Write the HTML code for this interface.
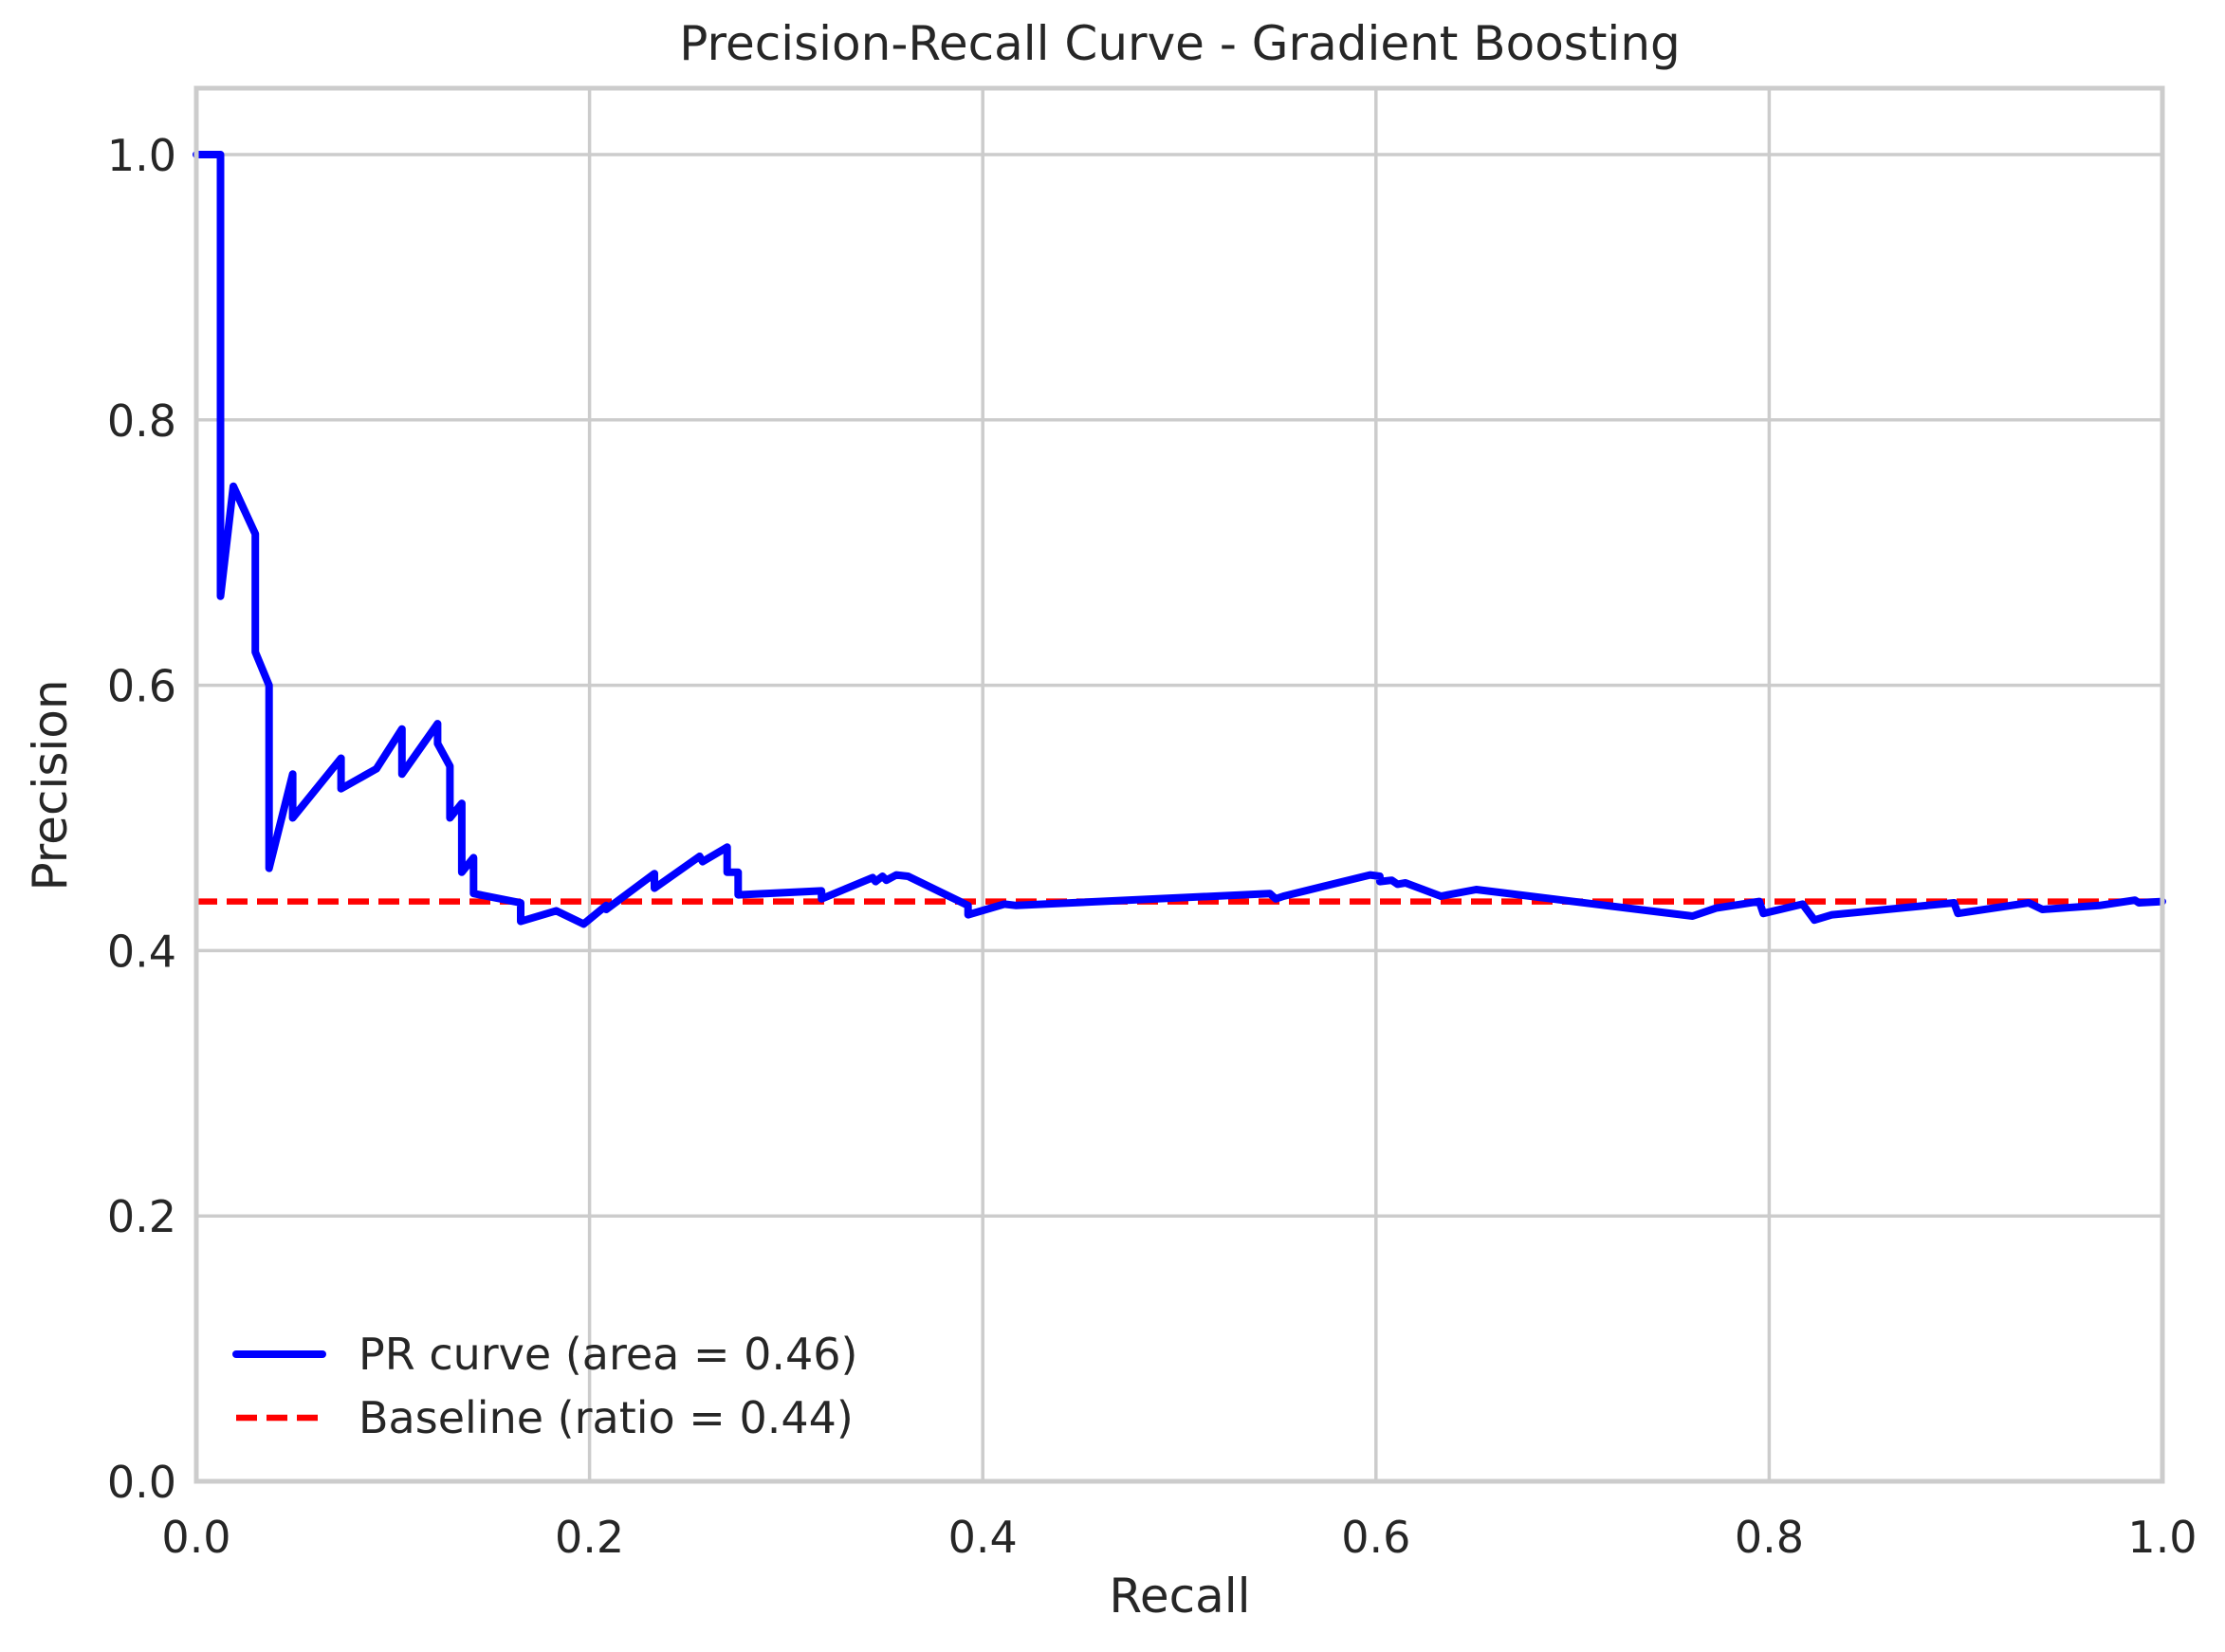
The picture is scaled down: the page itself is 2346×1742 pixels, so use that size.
<!DOCTYPE html>
<html><head><meta charset="utf-8"><style>
html,body{margin:0;padding:0;background:#fff;}
svg{display:block;font-family:"DejaVu Sans","Liberation Sans",sans-serif;}
</style></head><body>
<svg id="chart" width="2346" height="1742" viewBox="0 0 2346 1742">
<rect x="0" y="0" width="2346" height="1742" fill="#fff"/>
<g id="grid"></g>
<g id="marks"></g>
<g id="axes"></g>
<text x="1244" y="63" font-size="50" fill="#262626" text-anchor="middle">Precision-Recall Curve - Gradient Boosting</text>
<text x="1244" y="1700" font-size="50" fill="#262626" text-anchor="middle">Recall</text>
<text x="0" y="0" font-size="50" fill="#262626" text-anchor="middle" transform="translate(70,828) rotate(-90)">Precision</text>
<g>
<line x1="249" y1="1428" x2="340" y2="1428" stroke="#0000ff" stroke-width="8" stroke-linecap="round"/>
<text x="378" y="1444" font-size="46" fill="#262626">PR curve (area = 0.46)</text>
<line x1="249" y1="1495" x2="340" y2="1495" stroke="#ff0000" stroke-width="6.5" stroke-dasharray="22,10"/>
<text x="378" y="1511" font-size="46" fill="#262626">Baseline (ratio = 0.44)</text>
</g>
</svg>
<script>
const recall = [0,0.0123,0.0123,0.0188,0.030,0.030,0.037,0.037,0.049,0.049,0.0736,0.0736,0.0916,0.1046,0.1046,0.1227,0.1227,0.129,0.129,0.135,0.135,0.141,0.141,0.165,0.165,0.183,0.197,0.2085,0.2085,0.233,0.233,0.256,0.2575,0.27,0.27,0.2756,0.2756,0.318,0.318,0.344,0.3455,0.349,0.351,0.356,0.362,0.3925,0.3925,0.411,0.417,0.546,0.549,0.553,0.597,0.602,0.602,0.608,0.611,0.615,0.633,0.651,0.761,0.773,0.795,0.797,0.817,0.823,0.832,0.846,0.894,0.896,0.932,0.939,0.968,0.986,0.988,1.0];
const precision = [1.0,1.0,0.667,0.75,0.714,0.625,0.6,0.462,0.533,0.5,0.545,0.522,0.537,0.567,0.533,0.571,0.556,0.539,0.5,0.511,0.459,0.47,0.443,0.436,0.422,0.43,0.42,0.434,0.431,0.458,0.447,0.471,0.467,0.478,0.459,0.459,0.442,0.445,0.439,0.455,0.452,0.456,0.453,0.457,0.456,0.434,0.427,0.435,0.434,0.443,0.439,0.441,0.457,0.456,0.452,0.453,0.45,0.451,0.441,0.446,0.426,0.432,0.437,0.428,0.435,0.423,0.427,0.429,0.436,0.428,0.436,0.431,0.434,0.438,0.436,0.437];
const baselineRatio = [0.437];
const xTicks = [0,0.2,0.4,0.6,0.8,1.0];
const yTicks = [0,0.2,0.4,0.6,0.8,1.0];
const xTickLabels = ["0.0","0.2","0.4","0.6","0.8","1.0"];
const yTickLabels = ["0.0","0.2","0.4","0.6","0.8","1.0"];

const L=207,R=2280,T=93,B=1562,YMAX=1.05;
const sx=v=>L+(R-L)*v;
const sy=v=>B-(B-T)*v/YMAX;
const NS='http://www.w3.org/2000/svg';
function mk(tag,attrs,parent){const e=document.createElementNS(NS,tag);for(const k in attrs)e.setAttribute(k,attrs[k]);parent.appendChild(e);return e;}
const grid=document.getElementById('grid'),marks=document.getElementById('marks'),axes=document.getElementById('axes');
xTicks.forEach((v,i)=>{
  const g=mk('line',{x1:sx(v),x2:sx(v),y1:T,y2:B,stroke:'#cccccc','stroke-width':3.5},grid);
  
  
  const t=mk('text',{x:sx(v),y:1637,'font-size':46,fill:'#262626','text-anchor':'middle'},axes);
  t.textContent=xTickLabels[i];
  
  
});
yTicks.forEach((v,i)=>{
  const g=mk('line',{x1:L,x2:R,y1:sy(v),y2:sy(v),stroke:'#cccccc','stroke-width':3.5},grid);
  
  
  const t=mk('text',{x:186,y:sy(v)+17,'font-size':46,fill:'#262626','text-anchor':'end'},axes);
  t.textContent=yTickLabels[i];
  
  
});
const frame=mk('rect',{x:L,y:T,width:R-L,height:B-T,fill:'none',stroke:'#cccccc','stroke-width':5},axes);


const base=mk('line',{x1:sx(0),x2:sx(1),y1:sy(baselineRatio[0]),y2:sy(baselineRatio[0]),stroke:'#ff0000','stroke-width':6.5,'stroke-dasharray':'22,10'},marks);


const pts=recall.map((r,i)=>sx(r).toFixed(1)+','+sy(precision[i]).toFixed(1)).join(' ');
const pl=mk('polyline',{points:pts,fill:'none',stroke:'#0000ff','stroke-width':8,'stroke-linejoin':'round','stroke-linecap':'round'},marks);


</script>
</body></html>
